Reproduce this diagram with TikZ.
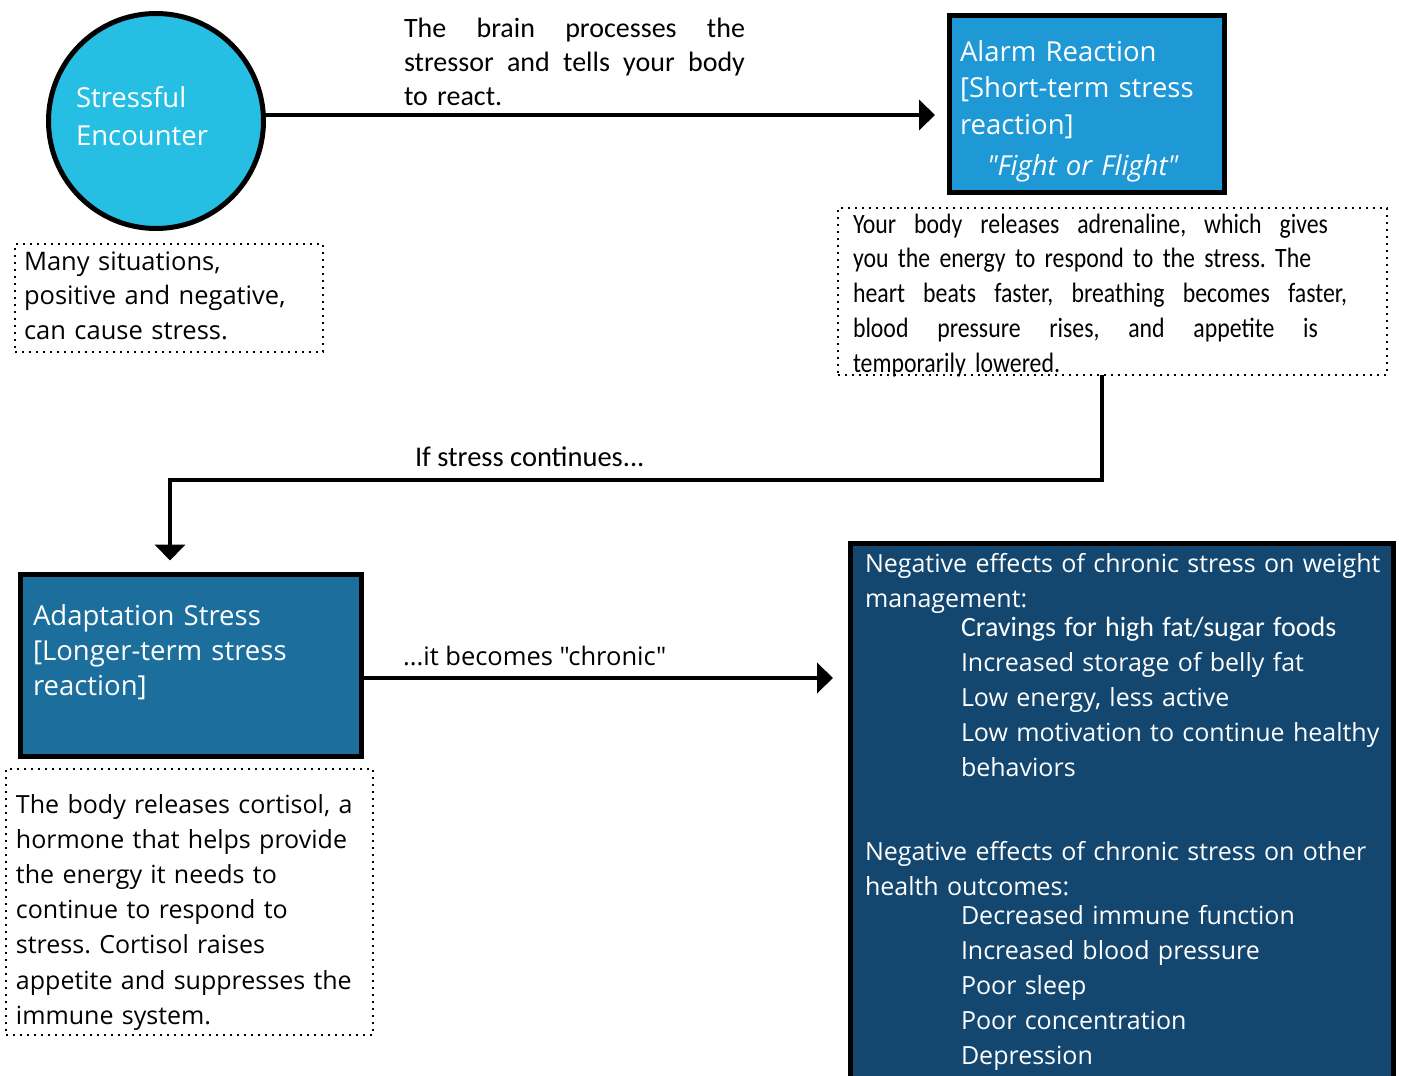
\documentclass[tikz,border=0pt]{standalone}
\usepackage{fontspec}
\setmainfont{Open Sans}
\newfontfamily\osans{Open Sans}
\newfontfamily\calib{Carlito}
\newfontfamily\narrow[FakeStretch=0.85]{Carlito}
\usetikzlibrary{arrows.meta,calc}

\definecolor{cyanfill}{HTML}{26BFE3}
\definecolor{alarmfill}{HTML}{1F98D6}
\definecolor{adaptfill}{HTML}{1C6F9C}
\definecolor{chronicfill}{HTML}{134770}

% a line set to a given width, its word spaces stretched evenly
\newcommand\jline[2]{\leavevmode\hbox to #1{\spaceskip=0.2em plus 1fil\relax #2}}

\begin{document}
\frenchspacing
\begin{tikzpicture}[x=1pt,y=-1pt,
  every node/.style={inner sep=0pt, outer sep=0pt},
  heavy/.style={draw=black, line width=5pt},
  dotbox/.style={draw=black, line width=2.4pt, dash pattern=on 2.4pt off 4.6pt, anchor=north west},
  flow/.style={line width=4pt, line join=miter, -{Triangle[length=16pt,width=30pt]}},
  wtxt/.style={text=white, anchor=base west, align=left},
  btxt/.style={text=black, anchor=base west, align=left},
]
\useasboundingbox (0,0) rectangle (1401,1076);
\clip (0,0) rectangle (1401,1076);

% stressful encounter
\node[heavy, circle, fill=cyanfill, minimum size=215pt] (enc) at (156,121) {};
\node[wtxt, text width=180pt, font=\osans\fontsize{27.5}{38}\selectfont] (enctxt) at (76,107)
  {Stressful\\Encounter};

\node[dotbox, minimum width=308pt, minimum height=108pt] (note1) at (15,244) {};
\node[btxt, text width=290pt, font=\osans\fontsize{25.5}{34.7}\selectfont] (note1txt) at (24,270)
  {Many situations,\\positive and negative,\\can cause stress.};

% alarm reaction
\node[heavy, fill=alarmfill, minimum width=275pt, minimum height=177pt, anchor=north west] (alarm) at (949.5,15.5) {};
\node[wtxt, text width=260pt, font=\osans\fontsize{27.5}{36.5}\selectfont] (alarmtxt) at (960,61)
  {Alarm Reaction\\{[}Short-term stress\\reaction]\\[5pt]\hspace*{27pt}\textit{"Fight or Flight"}};

\node[btxt, text width=345pt, font=\calib\fontsize{28}{34.5}\selectfont] (braintxt) at (404,37)
  {\jline{341pt}{The brain processes the}\\\jline{341pt}{stressor and tells your body}\\to react.};

\draw[flow] ($(enc.east)+(0,-6)$) -- ($(enc.east -| alarm.west)+(-14.5,-6)$);

\node[dotbox, minimum width=549pt, minimum height=167pt] (note2) at (838,208) {};
\node[btxt, text width=520pt, font=\narrow\fontsize{28}{34.8}\selectfont] (note2txt) at (853,233)
  {\jline{475pt}{Your body releases adrenaline, which gives}\\
   you the energy to respond to the stress. The\\
   \jline{494pt}{heart beats faster, breathing becomes faster,}\\
   \jline{465pt}{blood pressure rises, and appetite is}\\
   temporarily lowered.};

% adaptation stress
\node[heavy, fill=adaptfill, minimum width=341pt, minimum height=182pt, anchor=north west] (adapt) at (20.5,574.5) {};
\node[wtxt, text width=330pt, font=\osans\fontsize{27.5}{35}\selectfont] (adapttxt) at (33,625)
  {Adaptation Stress\\{[}Longer-term stress\\reaction]};

\coordinate (bend) at (170,480);
\draw[flow] ($(note2.south)+(-10.5,0)$) |- (bend) -- ($(adapt.north -| bend)+(0,-14)$);
\node[btxt, font=\calib\fontsize{28.5}{34}\selectfont] (conttxt) at (415,466) {If stress continues...};

\node[dotbox, minimum width=367pt, minimum height=266pt] (note3) at (6,769) {};
\node[btxt, text width=360pt, font=\osans\fontsize{25}{35.2}\selectfont] (note3txt) at (16,813)
  {The body releases cortisol, a\\hormone that helps provide\\the energy it needs to\\continue to respond to\\stress. Cortisol raises\\appetite and suppresses the\\immune system.};

% chronic effects
\node[heavy, fill=chronicfill, minimum width=543pt, minimum height=560pt, anchor=north west] (chronic) at (850.5,543.5) {};
\node[wtxt, text width=530pt, font=\osans\fontsize{25}{35}\selectfont] (chronictxt) at (865,572)
  {Negative effects of chronic stress on weight\\management:\\[-6pt]
   \hspace*{96pt}{\calib\fontsize{28}{35}\selectfont Cravings for high fat/sugar foods}\\
   \hspace*{96pt}Increased storage of belly fat\\
   \hspace*{96pt}Low energy, less active\\
   \hspace*{96pt}Low motivation to continue healthy\\
   \hspace*{96pt}behaviors\\[49pt]
   Negative effects of chronic stress on other\\health outcomes:\\[-6pt]
   \hspace*{96pt}Decreased immune function\\
   \hspace*{96pt}Increased blood pressure\\
   \hspace*{96pt}Poor sleep\\
   \hspace*{96pt}Poor concentration\\
   \hspace*{96pt}Depression};

\draw[flow] ($(adapt.east)+(0,12.5)$) -- ($(adapt.east -| chronic.west)+(-17.5,12.5)$);
\node[btxt, font=\osans\fontsize{25.5}{34}\selectfont] (chrontxt) at (403,665) {...it becomes "chronic"};
\end{tikzpicture}
\end{document}
